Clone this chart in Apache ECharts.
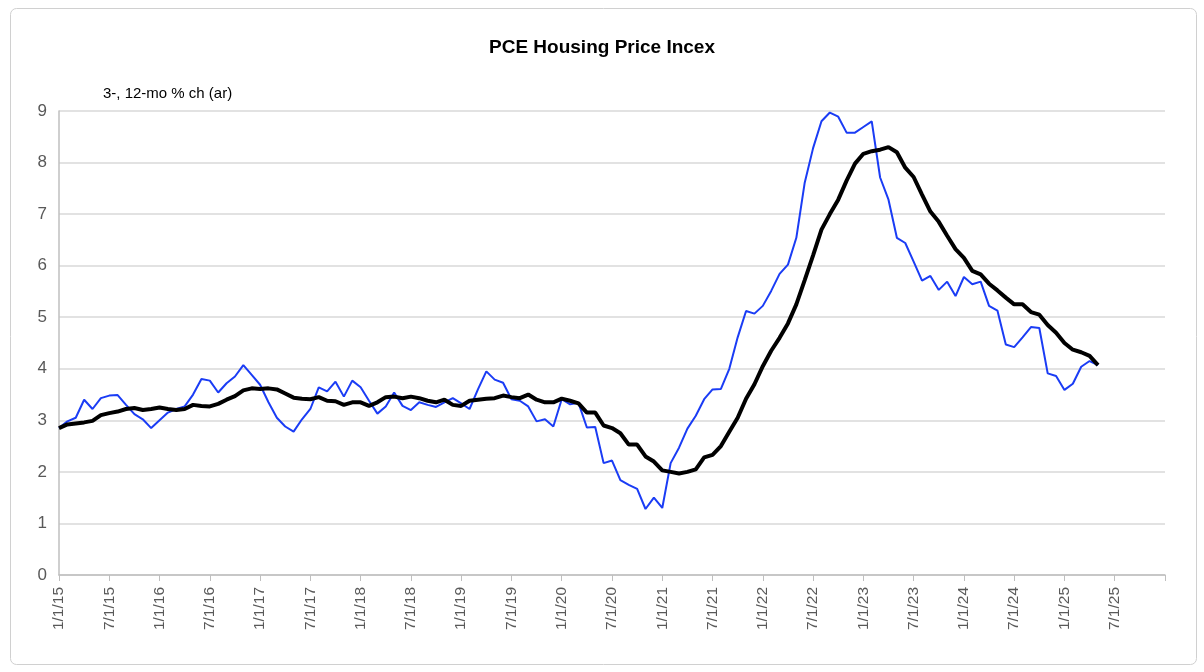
<!DOCTYPE html>
<html><head><meta charset="utf-8">
<script src="https://cdn.jsdelivr.net/npm/echarts@6/dist/echarts.min.js"></script>
<style>html,body{margin:0;padding:0;background:#fff}#c{width:1204px;height:672px}</style>
</head><body><div id="c"></div>
<script>
const threeMonth = [2.85,2.98,3.05,3.4,3.22,3.43,3.48,3.49,3.3,3.12,3.02,2.85,3.0,3.15,3.22,3.27,3.5,3.8,3.77,3.54,3.72,3.85,4.07,3.88,3.69,3.35,3.05,2.88,2.78,3.02,3.22,3.64,3.56,3.75,3.46,3.77,3.64,3.38,3.13,3.27,3.54,3.28,3.2,3.35,3.3,3.26,3.35,3.43,3.33,3.22,3.6,3.95,3.79,3.73,3.41,3.38,3.27,2.98,3.02,2.88,3.41,3.31,3.34,2.86,2.87,2.17,2.22,1.84,1.75,1.67,1.28,1.5,1.3,2.17,2.47,2.84,3.09,3.41,3.6,3.61,4.0,4.61,5.12,5.07,5.22,5.51,5.84,6.02,6.54,7.61,8.28,8.8,8.97,8.89,8.58,8.58,8.69,8.8,7.71,7.28,6.54,6.44,6.08,5.71,5.8,5.53,5.69,5.41,5.78,5.64,5.69,5.22,5.13,4.47,4.42,4.61,4.81,4.79,3.91,3.86,3.59,3.71,4.04,4.15,4.07];
const twelveMonth = [2.85,2.92,2.94,2.96,2.99,3.1,3.14,3.17,3.22,3.24,3.2,3.22,3.25,3.22,3.2,3.22,3.3,3.28,3.27,3.32,3.4,3.47,3.58,3.62,3.61,3.62,3.6,3.52,3.44,3.42,3.41,3.45,3.38,3.37,3.3,3.35,3.35,3.28,3.35,3.45,3.46,3.43,3.46,3.43,3.38,3.35,3.4,3.3,3.28,3.38,3.4,3.42,3.43,3.48,3.45,3.43,3.5,3.4,3.35,3.35,3.42,3.38,3.33,3.15,3.15,2.9,2.85,2.75,2.53,2.53,2.3,2.2,2.03,2.0,1.97,2.0,2.05,2.28,2.33,2.5,2.78,3.05,3.42,3.7,4.05,4.35,4.6,4.88,5.25,5.72,6.2,6.7,7.0,7.28,7.65,7.98,8.17,8.22,8.25,8.3,8.2,7.9,7.72,7.38,7.05,6.85,6.58,6.32,6.15,5.9,5.83,5.65,5.52,5.38,5.25,5.25,5.1,5.05,4.85,4.7,4.5,4.37,4.32,4.25,4.07];
const categories = [];
for (let y = 2015; y <= 2026; y++) for (let m = 1; m <= 12; m++) { if (y === 2026 && m > 1) break; categories.push(m + '/1/' + String(y).slice(2)); }
const chart = echarts.init(document.getElementById('c'));
chart.setOption({
  backgroundColor: '#fff',
  graphic: [{type:'rect', left:8, top:6, shape:{width:1186, height:656, r:6}, style:{fill:'none', stroke:'#d0d0d0', lineWidth:1}, silent:true}],
  title: {text:'PCE Housing Price Incex', left:'center', top:33, textStyle:{fontFamily:'Arial, Liberation Sans', fontWeight:'bold', fontSize:19, color:'#000'}},
  grid: {left:59, right:39, top:111, bottom:97},
  xAxis: {type:'category', data:categories, boundaryGap:false,
    axisLine:{lineStyle:{color:'#bfbfbf', width:1.5}},
    axisTick:{show:true, interval:(i)=>i%6===0, length:6, lineStyle:{color:'#bfbfbf'}},
    axisLabel:{interval:(i)=>i%6===0 && i<132, rotate:90, color:'#595959', fontSize:15.5, fontFamily:'Arial, Liberation Sans', margin:12},
    splitLine:{show:false}},
  yAxis: {type:'value', min:0, max:9, interval:1,
    name:'3-, 12-mo % ch (ar)', nameLocation:'end', nameGap:10,
    nameTextStyle:{align:'left', padding:[0,0,0,44], color:'#000', fontSize:15, fontFamily:'Arial, Liberation Sans', verticalAlign:'bottom'},
    axisLine:{show:true, lineStyle:{color:'#bfbfbf', width:1.5}},
    axisLabel:{color:'#595959', fontSize:17, fontFamily:'Arial, Liberation Sans', margin:12},
    splitLine:{lineStyle:{color:'#d9d9d9', width:1.5}}},
  series: [
    {name:'3-mo', type:'line', data:threeMonth, showSymbol:false, lineStyle:{color:'#1a3cf5', width:2}, z:2},
    {name:'12-mo', type:'line', data:twelveMonth, showSymbol:false, lineStyle:{color:'#000', width:4}, z:3}
  ]
});
</script></body></html>
